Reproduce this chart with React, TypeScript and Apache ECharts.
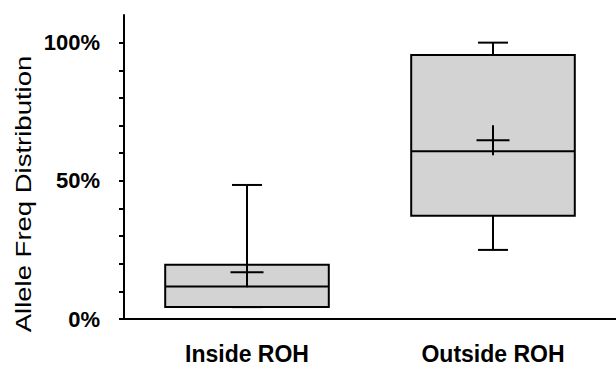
import React, { useEffect, useRef } from "react";
import * as echarts from "echarts";

const categories = ["Inside ROH", "Outside ROH"];
const whiskerLow = [4.3, 25];
const q1 = [4.3, 37.4];
const median = [11.8, 60.7];
const q3 = [19.6, 95.5];
const whiskerHigh = [48.5, 100];
const mean = [16.9, 64.7];
const yTickValues = [0, 10, 20, 30, 40, 50, 60, 70, 80, 90, 100];
const yLabelValues = [0, 50, 100];
const yAxisTitle = "Allele Freq Distribution";

const FONT = "'Liberation Sans', Arial, Helvetica, sans-serif";

export default function App() {
  const ref = useRef<HTMLDivElement>(null);
  useEffect(() => {
    if (!ref.current) return;
    const chart = echarts.init(ref.current, undefined, { renderer: "svg" });
    const data = categories.map((_, i) => [
      i,
      whiskerLow[i],
      q1[i],
      median[i],
      q3[i],
      whiskerHigh[i],
      mean[i],
    ]);
    const stroke = { stroke: "#000", lineWidth: 2 };
    const line = (x1: number, y1: number, x2: number, y2: number) => ({
      type: "line",
      shape: { x1, y1, x2, y2 },
      style: { ...stroke, fill: null },
    });
    chart.setOption({
      animation: false,
      grid: { left: 124, right: -4, top: 15, bottom: 45 },
      xAxis: {
        type: "category",
        data: categories,
        axisTick: { show: false },
        axisLine: { lineStyle: { color: "#000", width: 2 } },
        axisLabel: {
          color: "#000",
          fontSize: 23,
          fontWeight: "bold",
          fontFamily: FONT,
          margin: 23,
        },
        splitLine: { show: false },
      },
      yAxis: {
        type: "value",
        min: 0,
        max: 110,
        interval: 10,
        axisLine: { show: true, lineStyle: { color: "#000", width: 2 } },
        axisTick: {
          show: true,
          length: 5,
          customValues: yTickValues,
          lineStyle: { color: "#000", width: 2 },
        },
        axisLabel: {
          customValues: yLabelValues,
          formatter: "{value}%",
          color: "#000",
          fontSize: 22,
          fontWeight: "bold",
          fontFamily: FONT,
          margin: 24,
        },
        splitLine: { show: false },
      },
      graphic: [
        {
          type: "text",
          x: 23,
          y: 194,
          rotation: Math.PI / 2,
          scaleX: 1.25,
          style: {
            text: yAxisTitle,
            fontSize: 22,
            fontFamily: FONT,
            fill: "#000",
            align: "center",
            verticalAlign: "middle",
          },
        },
      ],
      series: [
        {
          type: "custom",
          data,
          encode: { x: 0, y: [1, 2, 3, 4, 5, 6] },
          renderItem: (params: any, api: any) => {
            const idx = api.value(0);
            const band = api.size([1, 0])[0];
            const bw = band * 0.665;
            const cx = api.coord([idx, 0])[0];
            const yLo = api.coord([idx, api.value(1)])[1];
            const yQ1 = api.coord([idx, api.value(2)])[1];
            const yMed = api.coord([idx, api.value(3)])[1];
            const yQ3 = api.coord([idx, api.value(4)])[1];
            const yHi = api.coord([idx, api.value(5)])[1];
            const yMean = api.coord([idx, api.value(6)])[1];
            const cap = 15;
            const crossW = 16.5;
            const crossH = 15;
            return {
              type: "group",
              children: [
                {
                  type: "rect",
                  shape: { x: cx - bw / 2, y: yQ3, width: bw, height: yQ1 - yQ3 },
                  style: { fill: "#d3d3d3", ...stroke },
                },
                line(cx - bw / 2, yMed, cx + bw / 2, yMed),
                line(cx, yQ3, cx, yHi),
                line(cx - cap, yHi, cx + cap, yHi),
                line(cx, yQ1, cx, yLo),
                line(cx - cap, yLo, cx + cap, yLo),
                line(cx - crossW, yMean, cx + crossW, yMean),
                line(cx, yMean - crossH, cx, yMean + crossH),
              ],
            };
          },
        },
      ],
    });
    return () => chart.dispose();
  }, []);
  return (
    <div
      ref={ref}
      style={{ position: "absolute", left: 0, top: 0, width: 616, height: 365 }}
    />
  );
}
